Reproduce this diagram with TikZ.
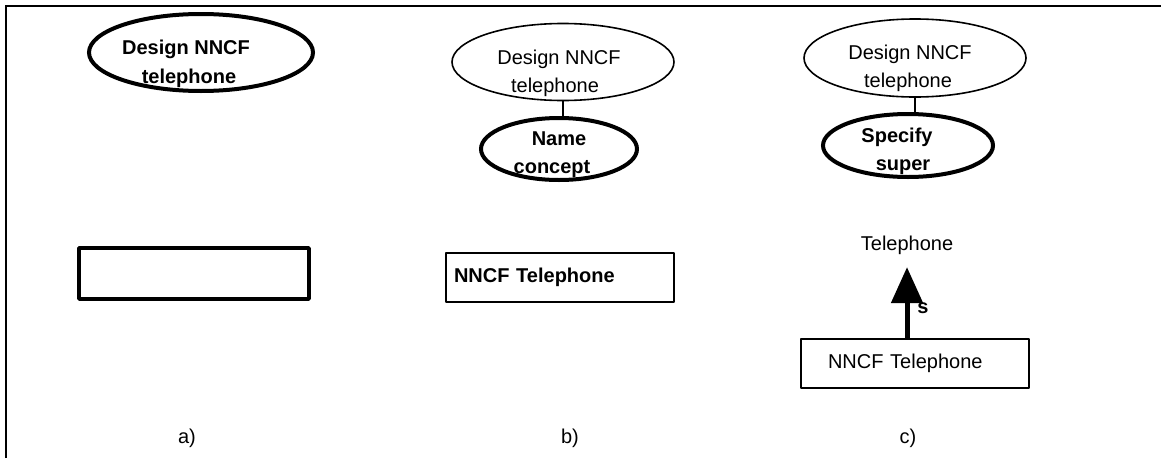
\documentclass[tikz,border=0pt]{standalone}
\usepackage{fontspec}
\setmainfont{Liberation Sans}
\usetikzlibrary{shapes.geometric,arrows.meta}
\begin{document}
\begin{tikzpicture}[x=1pt,y=-1pt,
  txt/.style={font=\fontsize{20}{28}\selectfont, inner sep=0pt, anchor=base},
  btxt/.style={txt, font=\fontsize{20}{28}\selectfont\bfseries},
  goal/.style={ellipse, draw, line width=1.6pt, inner sep=0pt},
  act/.style={ellipse, draw, line width=4pt, inner sep=0pt},
  concept/.style={draw, line width=2pt, inner ysep=0pt, line join=round},
  link/.style={line width=2pt},
  superarrow/.style={line width=5pt, -{Triangle[width=31pt,length=36pt]}}
]
\useasboundingbox (0,0) rectangle (1161,458);
% frame
\draw[line width=2.8pt] (6,458) -- (6,6) -- (1161,6);

% ---- a) ----
\node[act, minimum width=224pt, minimum height=77pt] (ea) at (201,52.5) {};
\node[btxt] (ea1) at (186,54.5) {Design NNCF};
\node[btxt] (ea2) at (189,83) {telephone};
\node[concept, line width=3.5pt, minimum width=230pt, minimum height=51pt] (ra) at (194,273.5) {};
\node[txt] (la) at (187,443) {a)};

% ---- b) ----
\node[goal, minimum width=222pt, minimum height=77pt] (eb) at (563,62) {};
\node[txt] (eb1) at (559,64) {Design NNCF};
\node[txt] (eb2) at (555,92) {telephone};
\node[act, minimum width=156pt, minimum height=62pt] (fb) at (559,149) {};
\node[btxt] (fb1) at (559,145) {Name};
\node[btxt] (fb2) at (552,173) {concept};
\draw[link] (eb.south) -- (eb.south |- fb.north);
\node[concept, minimum width=228pt, minimum height=49pt, text width=212pt,
      inner xsep=8pt, align=left, font=\fontsize{20}{28}\selectfont\bfseries]
      (rb) at (560,277.5) {NNCF Telephone};
\node[txt] (lb) at (570,443) {b)};

% ---- c) ----
\node[goal, minimum width=222pt, minimum height=78pt] (ec) at (915,58) {};
\node[txt] (ec1) at (910,59) {Design NNCF};
\node[txt] (ec2) at (908,87) {telephone};
\node[act, minimum width=170pt, minimum height=63pt] (fc) at (908,145.5) {};
\node[btxt] (fc1) at (897,142) {Specify};
\node[btxt] (fc2) at (903,170) {super};
\draw[link] (ec.south) -- (ec.south |- fc.north);
\node[txt] (tel) at (907,250) {Telephone};
\node[concept, minimum width=228pt, minimum height=49pt, text width=174pt,
      inner xsep=27pt, align=left, font=\fontsize{20}{28}\selectfont]
      (rc) at (915,363.5) {NNCF Telephone};
\draw[superarrow, shorten >=12.8pt] (rc.north -| tel.south) -- (tel.south);
\node[btxt] (s) at (923,313) {s};
\node[txt] (lc) at (908,443) {c)};
\end{tikzpicture}
\end{document}
